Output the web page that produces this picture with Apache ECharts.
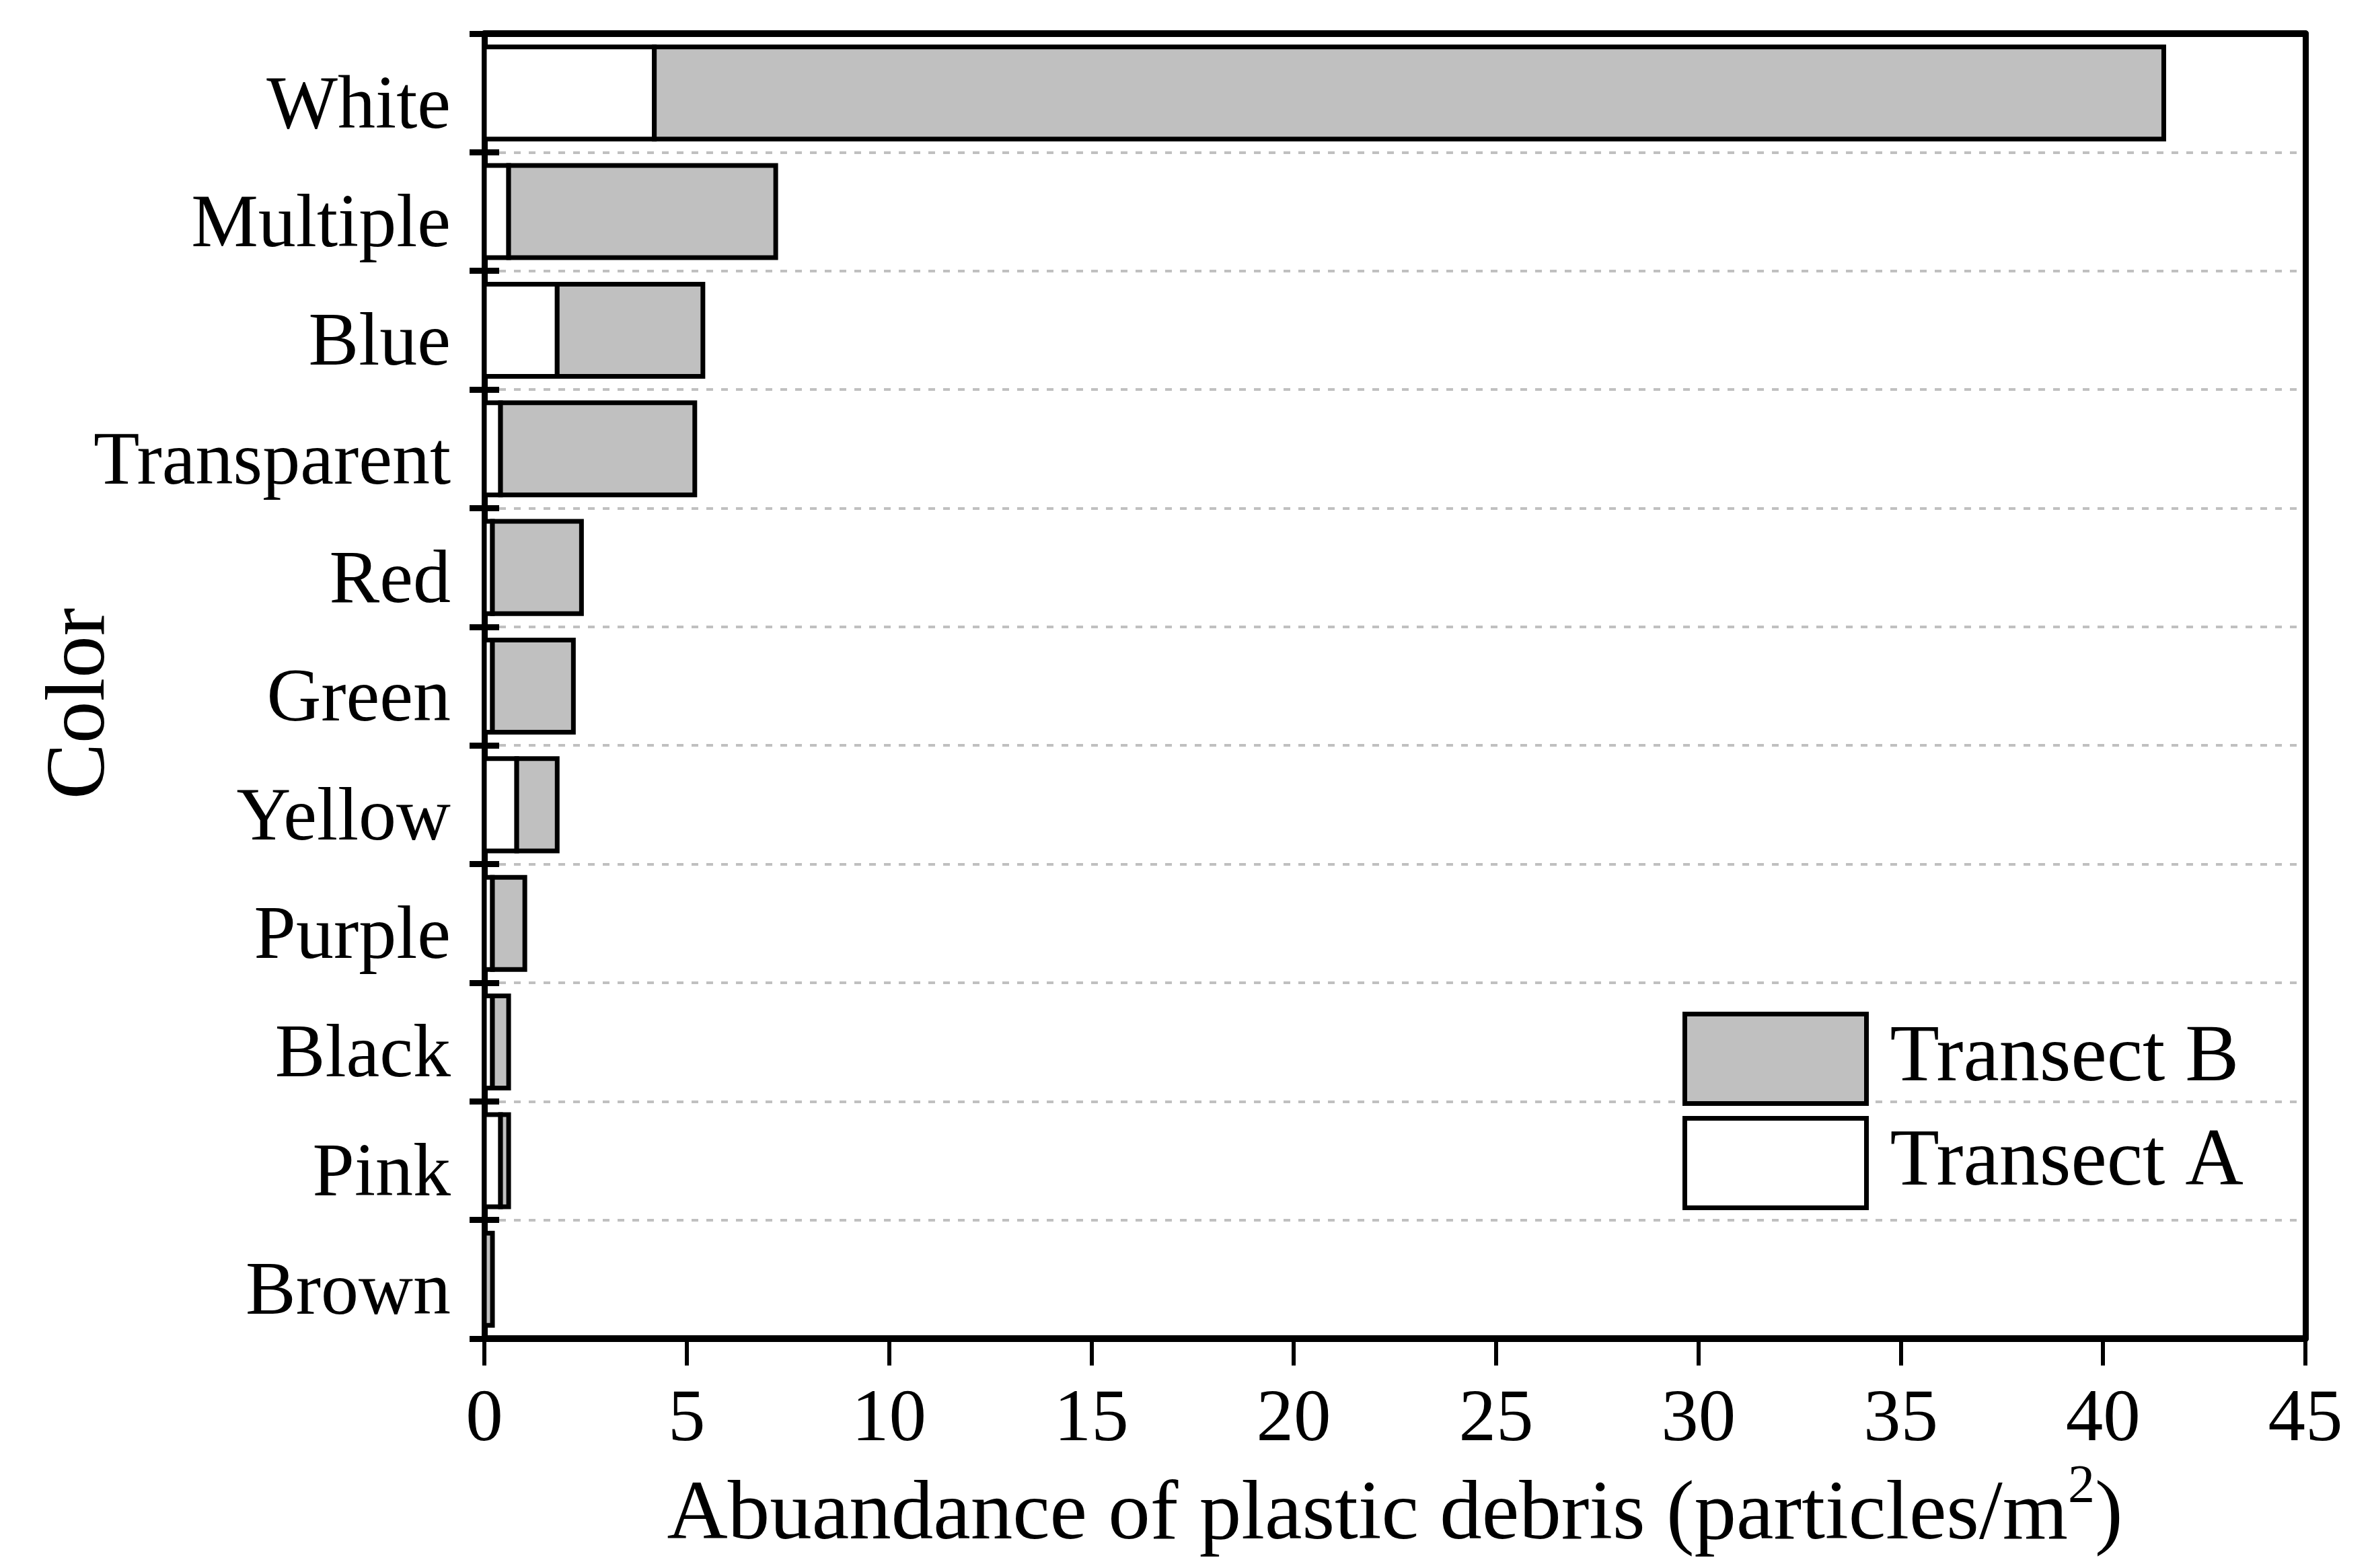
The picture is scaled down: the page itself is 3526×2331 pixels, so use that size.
<!DOCTYPE html>
<html>
<head>
<meta charset="utf-8">
<script src="https://cdn.jsdelivr.net/npm/echarts@6/dist/echarts.min.js"></script>
<style>
html,body{margin:0;padding:0;background:#fff;}
#chart{width:3526px;height:2331px;}
</style>
</head>
<body>
<div id="chart"></div>
<script>
var categories = ['White','Multiple','Blue','Transparent','Red','Green','Yellow','Purple','Black','Pink','Brown'];
var transectA = [4.2, 0.6, 1.8, 0.4, 0.2, 0.2, 0.8, 0.2, 0.2, 0.4, 0];
var transectB = [37.3, 6.6, 3.6, 4.8, 2.2, 2.0, 1.0, 0.8, 0.4, 0.2, 0.2];
var xTicks = [0, 45, 5]; // min, max, interval

var FONT = 'Liberation Serif';
var BAR_FRACTION = 0.777;
var BORDER = 7;

// Data for custom-drawn stacked bars: [value, categoryIndex, stackStart]
var dataA = categories.map(function (c, i) { return [transectA[i], i, 0]; });
var dataB = categories.map(function (c, i) { return [transectB[i], i, transectA[i]]; });

function makeRender(fill) {
  return function (params, api) {
    var v = api.value(0), cat = api.value(1), start = api.value(2);
    var p0 = api.coord([start, cat]);
    var p1 = api.coord([start + v, cat]);
    var h = api.size([0, 1])[1] * BAR_FRACTION;
    return {
      type: 'rect',
      shape: {x: p0[0], y: p0[1] - h / 2, width: p1[0] - p0[0], height: h},
      style: {fill: fill, stroke: '#000', lineWidth: BORDER}
    };
  };
}

var chart = echarts.init(document.getElementById('chart'), null, {renderer: 'canvas'});
var option = {
  backgroundColor: '#ffffff',
  animation: false,
  textStyle: {fontFamily: FONT, color: '#000'},
  grid: {left: 720, right: 99, top: 50, bottom: 341, containLabel: false, outerBoundsMode: 'none'},
  legend: {
    data: ['Transect B', 'Transect A'],
    orient: 'vertical',
    left: 2496,
    top: 1499,
    itemWidth: 270,
    itemHeight: 133,
    itemGap: 15,
    icon: 'rect',
    itemStyle: {borderWidth: BORDER, borderColor: '#000'},
    textStyle: {fontFamily: FONT, fontSize: 120, lineHeight: 120, color: '#000', padding: [0, 0, 0, 30]}
  },
  xAxis: [{
    type: 'value',
    position: 'bottom',
    min: xTicks[0], max: xTicks[1], interval: xTicks[2],
    axisLine: {show: true, lineStyle: {color: '#000', width: 10}},
    axisTick: {show: true, inside: false, length: 40, lineStyle: {color: '#000', width: 6}},
    axisLabel: {fontFamily: FONT, fontSize: 111, color: '#000', margin: 66},
    splitLine: {show: false},
    name: 'Abuandance of plastic debris (particles/m{sup|2})',
    nameLocation: 'middle',
    nameGap: 166,
    nameTextStyle: {
      fontFamily: FONT, fontSize: 125, lineHeight: 165, color: '#000',
      rich: {sup: {fontFamily: FONT, fontSize: 80, color: '#000', verticalAlign: 'top'}}
    }
  }, {
    type: 'value',
    position: 'top',
    min: xTicks[0], max: xTicks[1], interval: xTicks[2],
    axisLine: {show: true, lineStyle: {color: '#000', width: 10}},
    axisTick: {show: false},
    axisLabel: {show: false},
    splitLine: {show: false}
  }],
  yAxis: [{
    type: 'category',
    data: categories,
    inverse: true,
    position: 'left',
    axisLine: {show: true, lineStyle: {color: '#000', width: 9}},
    axisTick: {show: true, inside: false, length: 22, lineStyle: {color: '#000', width: 9}},
    axisLabel: {fontFamily: FONT, fontSize: 112, color: '#000', margin: 50, verticalAlign: 'top', lineHeight: 44},
    splitLine: {show: true, lineStyle: {color: '#c0c0c0', width: 4, type: [10, 12]}},
    name: 'Color',
    nameLocation: 'middle',
    nameRotate: 90,
    nameGap: 536,
    nameMoveOverlap: false,
    nameTextStyle: {fontFamily: FONT, fontSize: 125, color: '#000', padding: [0, 52, 0, 0]}
  }, {
    type: 'category',
    data: categories,
    inverse: true,
    position: 'left',
    axisLine: {show: false},
    axisTick: {show: true, inside: true, length: 22, lineStyle: {color: '#000', width: 9}},
    axisLabel: {show: false},
    splitLine: {show: false}
  }, {
    type: 'category',
    data: categories,
    inverse: true,
    position: 'right',
    axisLine: {show: true, lineStyle: {color: '#000', width: 9}},
    axisTick: {show: false},
    axisLabel: {show: false},
    splitLine: {show: false}
  }],
  series: [{
    name: 'Transect A',
    type: 'custom',
    xAxisIndex: 0, yAxisIndex: 0,
    encode: {x: 0, y: 1},
    data: dataA,
    renderItem: makeRender('#ffffff'),
    itemStyle: {color: '#ffffff', borderColor: '#000', borderWidth: BORDER}
  }, {
    name: 'Transect B',
    type: 'custom',
    xAxisIndex: 0, yAxisIndex: 0,
    encode: {x: 0, y: 1},
    data: dataB,
    renderItem: makeRender('#c0c0c0'),
    itemStyle: {color: '#c0c0c0', borderColor: '#000', borderWidth: BORDER}
  }]
};
chart.setOption(option);
</script>
</body>
</html>
